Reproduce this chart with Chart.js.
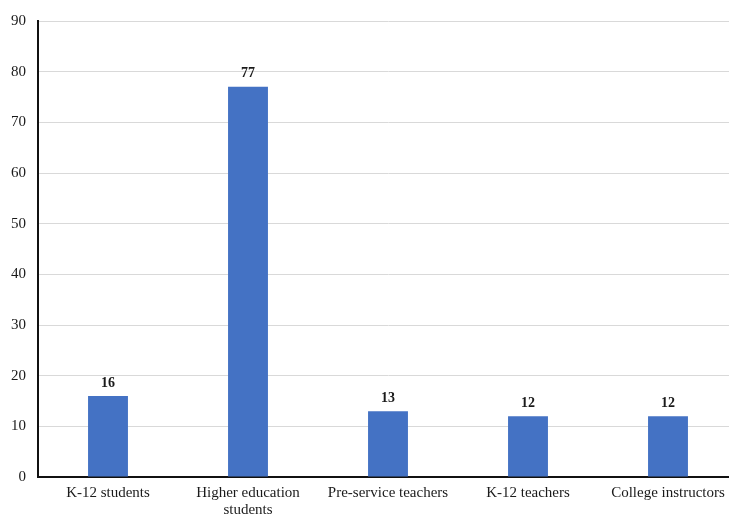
<!DOCTYPE html>
<html>
<head>
<meta charset="utf-8">
<script src="https://cdn.jsdelivr.net/npm/chart.js@4"></script>
<style>
  html, body { margin: 0; padding: 0; background: #fff; overflow: hidden; }
  #wrap { position: relative; width: 740px; height: 515px; }
</style>
</head>
<body>
<div id="wrap"><canvas id="chart"></canvas></div>
<script>
// categories and counts
const categories = [
    "K-12 students",
    ["Higher education", "students"],
    "Pre-service teachers",
    "K-12 teachers",
    "College instructors"
];
const counts = [16, 77, 13, 12, 12];
const yTicks = [0, 10, 20, 30, 40, 50, 60, 70, 80, 90];

const serif = "'Liberation Serif', 'Times New Roman', serif";

// value labels above each bar
const valueLabels = {
    id: "valueLabels",
    afterDatasetsDraw(chart) {
        const ctx = chart.ctx;
        const meta = chart.getDatasetMeta(0);
        ctx.save();
        ctx.font = "bold 14px " + serif;
        ctx.fillStyle = "#1a1a1a";
        ctx.textAlign = "center";
        ctx.textBaseline = "bottom";
        meta.data.forEach((bar, i) => {
            ctx.fillText(String(counts[i]), bar.x, bar.y - 6);
        });
        ctx.restore();
    }
};

new Chart(document.getElementById("chart"), {
    type: "bar",
    data: {
        labels: categories,
        datasets: [{
            data: counts,
            backgroundColor: "#4472C4",
            barPercentage: 0.95,
            categoryPercentage: 0.3
        }]
    },
    options: {
        responsive: true,
        maintainAspectRatio: false,
        animation: false,
        layout: { padding: { top: 18, right: 2, left: 0, bottom: 0 } },
        plugins: { legend: { display: false }, tooltip: { enabled: false } },
        scales: {
            x: {
                grid: { display: false, drawTicks: false },
                border: { color: "#111", width: 2 },
                ticks: {
                    font: { family: serif, size: 15, lineHeight: 1.1 },
                    color: "#1a1a1a",
                    padding: 8,
                    maxRotation: 0,
                    autoSkip: false
                },
                afterFit(scale) { scale.height = 38; }
            },
            y: {
                min: 0,
                max: 90,
                afterBuildTicks(scale) { scale.ticks = yTicks.map(v => ({ value: v })); },
                grid: { color: "#d9d9d9", lineWidth: 1, drawTicks: false },
                border: { color: "#111", width: 2 },
                ticks: {
                    font: { family: serif, size: 15 },
                    color: "#1a1a1a",
                    padding: 12
                },
                afterFit(scale) { scale.width = 38; }
            }
        }
    },
    plugins: [valueLabels]
});
</script>
</body>
</html>
